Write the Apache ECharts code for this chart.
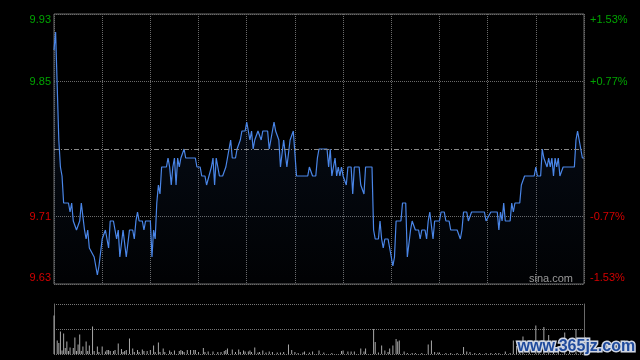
<!DOCTYPE html>
<html><head><meta charset="utf-8">
<script src="https://cdn.jsdelivr.net/npm/echarts@6/dist/echarts.min.js"></script>
<style>html,body{margin:0;padding:0;background:#000;}#c{width:640px;height:360px;}</style>
</head><body><div id="c"></div>
<script>
// ---- data ----
const priceTicks = [9.63, 9.705, 9.78, 9.855, 9.93];
const priceLabels = ['9.63', '9.71', '', '9.85', '9.93'];
const pctLabels = ['-1.53%', '-0.77%', '', '+0.77%', '+1.53%'];
const basePrice = 9.78;
const sessionMinutes = 330;
// [minute from open, price]
const pricePoints = [[0,9.89],[1,9.91],[2,9.85],[3,9.79],[4,9.76],[5,9.75],[6,9.72],[9,9.72],[10,9.71],[11,9.72],[12,9.70],[13,9.70],[14,9.69],[15,9.69],[16,9.70],[17,9.72],[18,9.72],[19,9.69],[20,9.68],[21,9.69],[22,9.67],[23,9.67],[25,9.66],[26,9.66],[27,9.64],[28,9.65],[29,9.65],[30,9.68],[31,9.68],[32,9.69],[33,9.68],[34,9.67],[35,9.70],[37,9.70],[38,9.69],[39,9.68],[40,9.69],[41,9.66],[43,9.69],[44,9.69],[45,9.66],[46,9.66],[47,9.69],[49,9.69],[50,9.68],[51,9.70],[52,9.71],[53,9.70],[55,9.70],[56,9.69],[57,9.70],[60,9.70],[61,9.66],[62,9.69],[63,9.68],[64,9.72],[65,9.74],[66,9.73],[67,9.76],[70,9.76],[71,9.77],[72,9.76],[73,9.74],[74,9.76],[75,9.77],[76,9.74],[77,9.77],[78,9.76],[79,9.77],[81,9.78],[82,9.77],[88,9.77],[89,9.76],[91,9.76],[92,9.75],[94,9.75],[95,9.74],[96,9.74],[98,9.76],[99,9.77],[100,9.74],[101,9.77],[103,9.75],[105,9.75],[107,9.76],[108,9.77],[109,9.77],[110,9.79],[111,9.77],[113,9.77],[114,9.78],[116,9.79],[117,9.80],[119,9.80],[120,9.81],[121,9.80],[122,9.79],[123,9.80],[124,9.78],[125,9.79],[126,9.79],[127,9.80],[128,9.80],[129,9.79],[130,9.80],[133,9.80],[134,9.78],[135,9.79],[137,9.81],[138,9.80],[140,9.79],[141,9.76],[143,9.79],[144,9.79],[145,9.76],[146,9.76],[147,9.79],[148,9.79],[149,9.80],[150,9.80],[151,9.75],[158,9.75],[159,9.76],[160,9.76],[161,9.75],[163,9.75],[164,9.77],[165,9.78],[170,9.78],[171,9.76],[172,9.78],[173,9.75],[175,9.77],[176,9.75],[177,9.76],[178,9.75],[179,9.76],[180,9.75],[181,9.75],[182,9.74],[183,9.76],[185,9.76],[186,9.73],[187,9.76],[190,9.76],[191,9.74],[192,9.74],[193,9.73],[194,9.76],[198,9.76],[199,9.69],[200,9.68],[202,9.68],[203,9.70],[204,9.68],[205,9.67],[206,9.68],[208,9.68],[209,9.67],[210,9.67],[211,9.65],[212,9.66],[213,9.70],[216,9.70],[217,9.72],[219,9.72],[220,9.66],[221,9.66],[222,9.69],[223,9.70],[225,9.69],[227,9.69],[228,9.68],[229,9.69],[231,9.69],[232,9.68],[233,9.70],[234,9.71],[236,9.68],[237,9.70],[240,9.70],[241,9.71],[243,9.71],[244,9.70],[246,9.70],[247,9.69],[251,9.69],[253,9.68],[254,9.69],[255,9.71],[257,9.71],[258,9.70],[260,9.71],[268,9.71],[269,9.70],[270,9.70],[272,9.71],[276,9.71],[277,9.69],[278,9.71],[279,9.70],[280,9.72],[281,9.70],[284,9.70],[285,9.72],[286,9.71],[287,9.72],[290,9.72],[291,9.74],[292,9.74],[293,9.75],[299,9.75],[300,9.76],[301,9.75],[303,9.75],[304,9.78],[305,9.77],[306,9.77],[307,9.76],[308,9.77],[309,9.76],[310,9.77],[311,9.75],[312,9.77],[313,9.76],[314,9.77],[315,9.75],[317,9.76],[324,9.76],[325,9.79],[326,9.80],[327,9.79],[328,9.79],[329,9.77],[330,9.77]];
// [minute from open, volume (relative units, panel max 100)]
const volumePoints = [[0,77],[2,27],[3,22],[4,45],[5,7],[6,41],[7,12],[8,25],[9,6],[10,13],[12,12],[13,33],[14,6],[15,19],[16,39],[17,6],[18,15],[20,25],[21,6],[22,17],[24,55],[25,6],[27,15],[28,4],[30,15],[32,5],[33,8],[34,8],[35,6],[37,6],[38,8],[40,21],[42,10],[43,4],[44,6],[45,8],[47,31],[49,11],[50,4],[52,8],[53,4],[55,9],[56,6],[58,6],[60,8],[62,17],[63,4],[65,23],[66,4],[68,11],[69,4],[72,7],[73,4],[75,7],[78,6],[79,8],[80,6],[81,4],[83,8],[85,8],[87,8],[88,8],[90,4],[93,12],[94,4],[96,5],[99,5],[102,4],[104,4],[106,6],[107,8],[108,11],[111,9],[113,4],[115,9],[116,4],[118,7],[119,5],[121,5],[122,7],[123,4],[125,13],[127,3],[128,4],[130,7],[132,3],[134,5],[136,4],[139,3],[141,3],[143,4],[146,19],[148,8],[150,4],[152,2],[155,3],[156,5],[159,3],[161,5],[165,7],[168,3],[173,2],[179,6],[180,7],[183,5],[185,5],[187,5],[191,11],[193,5],[194,11],[199,50],[200,24],[202,3],[204,17],[206,7],[208,4],[209,11],[211,17],[213,30],[214,25],[215,27],[218,5],[220,2],[223,2],[225,2],[229,2],[233,19],[235,27],[237,4],[239,3],[240,3],[244,2],[247,2],[251,2],[255,14],[257,5],[259,4],[262,2],[265,2],[269,2],[272,2],[275,2],[277,2],[281,5],[284,2],[286,27],[288,16],[290,6],[292,35],[296,12],[300,57],[302,10],[305,54],[308,38],[311,15],[314,9],[318,43],[321,12],[325,50],[328,20]];
const volumeMax = 100;

// ---- chart ----
const GREEN = '#00a400', RED = '#d40000';
const step = priceTicks[1] - priceTicks[0];
const tickIndex = v => Math.round((v - priceTicks[0]) / step);
const richFor = (txt, idx) => {
  if (!txt) return '';
  const key = (idx >= 3 ? 'g' : 'r') + (idx === 4 ? 't' : idx === 0 ? 'b' : 'm');
  return '{' + key + '|' + txt + '}';
};
const rich = {
  gt: {color: GREEN, fontSize: 11, fontFamily: 'Liberation Sans, Arial', padding: [12, 0, 0, 0]},
  gm: {color: GREEN, fontSize: 11, fontFamily: 'Liberation Sans, Arial'},
  rm: {color: RED, fontSize: 11, fontFamily: 'Liberation Sans, Arial'},
  rb: {color: RED, fontSize: 11, fontFamily: 'Liberation Sans, Arial', padding: [0, 0, 12, 0]}
};
const GRID_C = '#6a6a6a';
const dotted = {color: GRID_C, width: 1, type: [1, 1]};
const chart = echarts.init(document.getElementById('c'), null, {renderer: 'canvas'});
chart.setOption({
  backgroundColor: '#000',
  animation: false,
  grid: [
    {left: 54, top: 14, width: 530, height: 270, show: true, borderColor: '#6a6a6a', borderWidth: 1},
    {left: 54, top: 304, width: 530, height: 50, show: false}
  ],
  xAxis: [
    {gridIndex: 0, type: 'value', min: 0, max: sessionMinutes, interval: 30,
     axisLine: {show: false}, axisTick: {show: false}, axisLabel: {show: false},
     splitLine: {show: true, lineStyle: dotted}},
    {gridIndex: 1, type: 'value', min: 0, max: sessionMinutes, interval: 30,
     axisLine: {show: false}, axisTick: {show: false}, axisLabel: {show: false},
     splitLine: {show: false}}
  ],
  yAxis: [
    {gridIndex: 0, type: 'value', position: 'left', min: priceTicks[0], max: priceTicks[4], interval: step,
     axisLine: {show: false}, axisTick: {show: false},
     axisLabel: {margin: 3, formatter: v => richFor(priceLabels[tickIndex(v)], tickIndex(v)), rich: rich},
     splitLine: {show: true, lineStyle: {color: [GRID_C, GRID_C, 'rgba(0,0,0,0)', GRID_C, GRID_C], width: 1, type: [1, 1]}}},
    {gridIndex: 0, type: 'value', position: 'right', min: priceTicks[0], max: priceTicks[4], interval: step,
     axisLine: {show: false}, axisTick: {show: false},
     axisLabel: {margin: 6, formatter: v => richFor(pctLabels[tickIndex(v)], tickIndex(v)), rich: rich},
     splitLine: {show: false}},
    {gridIndex: 1, type: 'value', position: 'left', min: 0, max: volumeMax, interval: volumeMax / 2,
     axisLine: {show: true, lineStyle: {color: '#6a6a6a', width: 1}}, axisTick: {show: false}, axisLabel: {show: false},
     splitLine: {show: true, lineStyle: {color: '#777', width: 1, type: [1, 1]}}},
    {gridIndex: 1, type: 'value', position: 'right', min: 0, max: volumeMax, interval: volumeMax / 2,
     axisLine: {show: true, lineStyle: {color: '#6a6a6a', width: 1}}, axisTick: {show: false}, axisLabel: {show: false},
     splitLine: {show: false}}
  ],
  series: [
    {type: 'line', xAxisIndex: 0, yAxisIndex: 0, data: pricePoints, showSymbol: false, symbol: 'none',
     lineStyle: {color: '#4a86e8', width: 1.2},
     areaStyle: {origin: 'start', color: new echarts.graphic.LinearGradient(0, 0, 0, 1, [
       {offset: 0, color: 'rgba(40,80,150,0.28)'}, {offset: 1, color: 'rgba(40,80,150,0.03)'}])},
     markLine: {silent: true, symbol: 'none', label: {show: false},
       lineStyle: {color: '#8a8a8a', width: 1, type: [5, 2, 1, 2]},
       data: [{yAxis: basePrice}]},
     z: 3},
    {type: 'bar', xAxisIndex: 1, yAxisIndex: 2, data: volumePoints, barWidth: 1,
     itemStyle: {color: '#a8a8a8'}, z: 3}
  ],
  graphic: [
    {type: 'text', right: 67, top: 273, z: 10,
     style: {text: 'sina.com', fill: '#9a9a9a', font: '11px "Liberation Sans", Arial'}},
    {type: 'text', left: 516, top: 337, z: 20,
     style: {text: 'www.365jz.com', fill: '#1f4a9c', stroke: '#cfd6e4', lineWidth: 3,
             font: 'bold 16px "Liberation Sans", Arial'}}
  ]
});
</script></body></html>
